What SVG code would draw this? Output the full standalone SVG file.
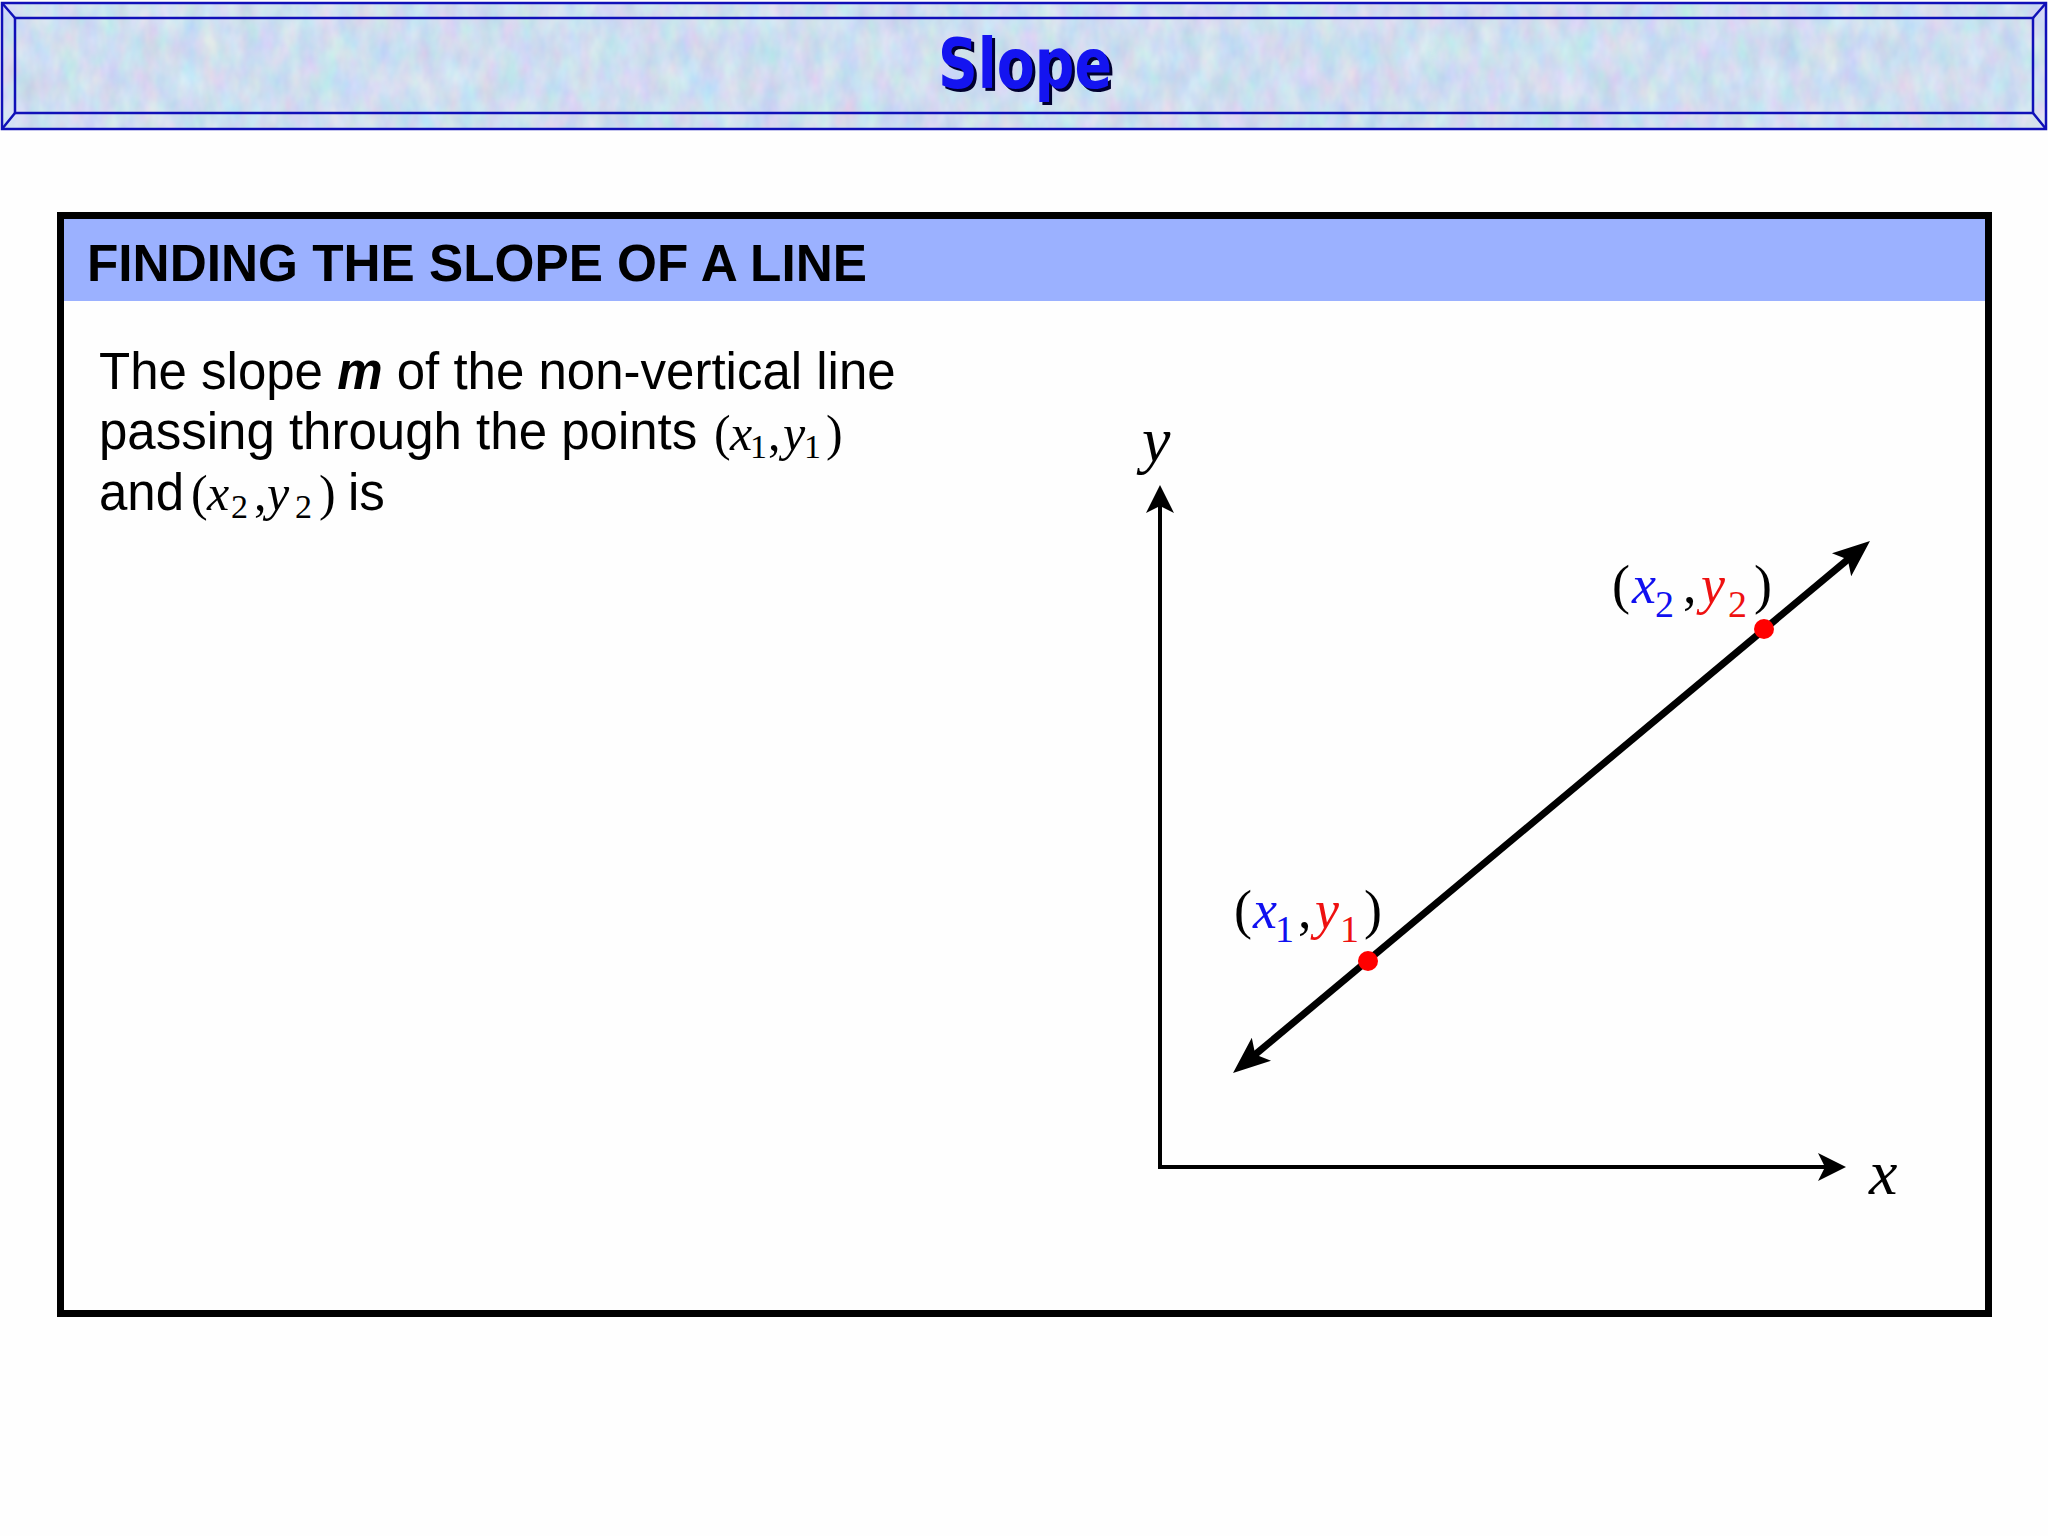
<svg xmlns="http://www.w3.org/2000/svg" width="2048" height="1536" viewBox="0 0 2048 1536">
<defs>
<style>
.body{font-family:"Liberation Sans",Arial,sans-serif;font-size:51px;fill:#000}
.hdr{font-family:"Liberation Sans",Arial,sans-serif;font-size:51.3px;font-weight:bold;fill:#000}
.math{font-family:"Liberation Serif","Times New Roman",serif;fill:#000}
.it{font-style:italic}
.blue{fill:#1010F0}
.red{fill:#EE1111}
.title{font-family:"Comic Sans MS","DejaVu Sans",sans-serif;font-size:70px;font-weight:bold}
.bevel{stroke:#1010B8;stroke-width:2.5;fill:none}
</style>
<filter id="tex" x="0" y="0" width="100%" height="100%" color-interpolation-filters="sRGB">
<feTurbulence type="fractalNoise" baseFrequency="0.05 0.03" numOctaves="3" seed="7"/>
<feColorMatrix type="matrix" values="0.22 0 0 0 0.70  0 0.16 0 0 0.79  0 0 0.10 0 0.89  0 0 0 0 1"/>
</filter>
<marker id="bigHead" markerUnits="userSpaceOnUse" markerWidth="60" markerHeight="40" refX="0" refY="0" viewBox="-20 -20 60 40" orient="auto-start-reverse" overflow="visible">
<path d="M25,0 L-12,-15 L-4,0 L-12,15 Z" fill="#000"/>
</marker>
<marker id="axisHead" markerUnits="userSpaceOnUse" markerWidth="40" markerHeight="40" refX="0" refY="0" viewBox="-20 -20 40 40" orient="auto" overflow="visible">
<path d="M20,0 L-8,-14 L-1,0 L-8,14 Z" fill="#000"/>
</marker>
</defs>
<rect width="2048" height="1536" fill="#FEFEFE"/>
<g id="banner">
<rect x="2" y="3" width="2044" height="126" filter="url(#tex)"/>
<rect x="2" y="3" width="2044" height="126" class="bevel"/>
<rect x="15" y="18" width="2018" height="95" class="bevel"/>
<path class="bevel" d="M2,3 L15,18 M2046,3 L2033,18 M2,129 L15,113 M2046,129 L2033,113"/>
<text class="title" x="941" y="91" textLength="174" lengthAdjust="spacingAndGlyphs" fill="#000030">Slope</text>
<text class="title" x="938" y="88" textLength="174" lengthAdjust="spacingAndGlyphs" fill="#1414F0">Slope</text>
</g>
<g id="panel">
<rect x="64" y="219" width="1921" height="82" fill="#9BB1FF"/>
<rect x="60.5" y="215.5" width="1928" height="1098" fill="none" stroke="#000" stroke-width="7"/>
<text class="hdr" x="87" y="281">FINDING THE SLOPE OF A LINE</text>
</g>
<g id="statement">
<text class="body" x="99" y="389">The slope <tspan font-weight="bold" font-style="italic">m</tspan> of the non-vertical line</text>
<text class="body" x="99" y="449">passing through the points</text>
<g class="math" font-size="50">
<text x="714" y="450">(</text>
<text x="730" y="450" class="it">x</text>
<text x="750" y="458" font-size="34">1</text>
<text x="768" y="450">,</text>
<text x="783" y="450" class="it">y</text>
<text x="804" y="458" font-size="34">1</text>
<text x="826" y="450">)</text>
</g>
<text class="body" x="99" y="510">and</text>
<g class="math" font-size="50">
<text x="191" y="510">(</text>
<text x="207" y="510" class="it">x</text>
<text x="231" y="518" font-size="34">2</text>
<text x="254" y="510">,</text>
<text x="267" y="510" class="it">y</text>
<text x="295" y="518" font-size="34">2</text>
<text x="319" y="510">)</text>
</g>
<text class="body" x="348" y="510">is</text>
</g>
<g id="axes">
<line x1="1160" y1="1167" x2="1160" y2="505" stroke="#000" stroke-width="4" marker-end="url(#axisHead)"/>
<line x1="1158" y1="1167" x2="1826" y2="1167" stroke="#000" stroke-width="4" marker-end="url(#axisHead)"/>
<text class="math it" font-size="64" x="1142" y="461">y</text>
<text class="math it" font-size="64" x="1869" y="1194">x</text>
</g>
<g id="connectors">
<line x1="1252.2" y1="1057" x2="1850.8" y2="557" stroke="#000" stroke-width="7" marker-start="url(#bigHead)" marker-end="url(#bigHead)"/>
</g>
<g id="point1">
<circle cx="1368" cy="961" r="10" fill="#FF0000"/>
<g class="math" font-size="54">
<text x="1234" y="928">(</text>
<text x="1253" y="928" class="it blue">x</text>
<text x="1275" y="942" font-size="38" class="blue">1</text>
<text x="1298" y="928">,</text>
<text x="1315" y="928" class="it red">y</text>
<text x="1340" y="942" font-size="38" class="red">1</text>
<text x="1364" y="928">)</text>
</g>
</g>
<g id="point2">
<circle cx="1764" cy="629" r="10" fill="#FF0000"/>
<g class="math" font-size="54">
<text x="1612" y="603">(</text>
<text x="1632" y="603" class="it blue">x</text>
<text x="1655" y="617" font-size="38" class="blue">2</text>
<text x="1683" y="603">,</text>
<text x="1701" y="603" class="it red">y</text>
<text x="1728" y="617" font-size="38" class="red">2</text>
<text x="1754" y="603">)</text>
</g>
</g>
</svg>
